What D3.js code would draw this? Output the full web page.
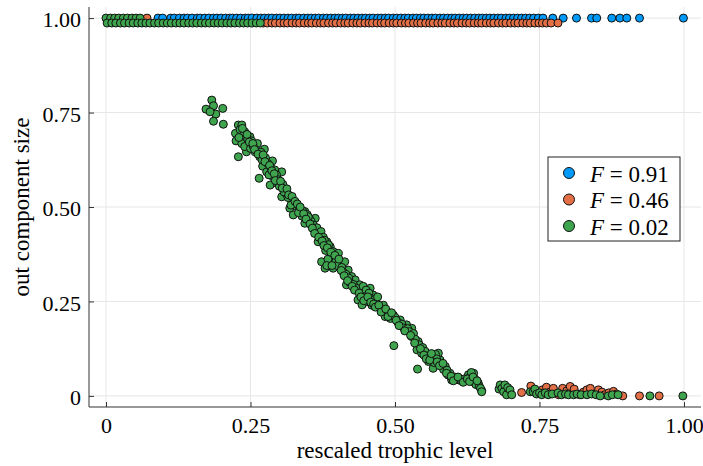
<!DOCTYPE html>
<html>
<head>
<meta charset="utf-8">
<script src="https://cdn.jsdelivr.net/npm/d3@7"></script>
<style>
  body { margin: 0; background: white; }
  text { font-family: "Liberation Serif", "DejaVu Serif", serif; }
</style>
</head>
<body>
<div id="chart"></div>
<script>
// tick labels
var xTicks = [0, 0.25, 0.5, 0.75, 1.0]
var xTickLabels = ["0", "0.25", "0.50", "0.75", "1.00"]
var yTicks = [0, 0.25, 0.5, 0.75, 1.0]
var yTickLabels = ["0", "0.25", "0.50", "0.75", "1.00"]

var seriesNames = ["0.91", "0.46", "0.02"]
var seriesColors = ["#009AFA", "#E36F47", "#3EA44E"]

// F = 0.91 : everything sits at out component size 1
var blueTopX = [0.090, 0.098, 0.112, 0.118, 0.127, 0.135, 0.141, 0.149, 0.158, 0.163, 0.171, 0.178, 0.186, 0.192,
  0.199, 0.207, 0.214, 0.219, 0.226, 0.233, 0.241, 0.246, 0.253, 0.261, 0.268, 0.274, 0.281, 0.287, 0.295, 0.301,
  0.308, 0.315, 0.321, 0.329, 0.334, 0.342, 0.349, 0.355, 0.362, 0.368, 0.376, 0.382, 0.389, 0.396, 0.402, 0.409,
  0.415, 0.423, 0.429, 0.436, 0.443, 0.449, 0.456, 0.462, 0.470, 0.476, 0.483, 0.489, 0.497, 0.503, 0.510, 0.517,
  0.523, 0.531, 0.537, 0.544, 0.550, 0.557, 0.564, 0.570, 0.578, 0.584, 0.591, 0.598, 0.604, 0.611, 0.618, 0.624,
  0.631, 0.638, 0.645, 0.651, 0.658, 0.664, 0.671, 0.678, 0.684, 0.692, 0.698, 0.705, 0.712, 0.719, 0.726, 0.733,
  0.740, 0.748, 0.756, 0.773, 0.791, 0.814, 0.840, 0.849, 0.875, 0.889, 0.901, 0.923, 0.999]

// F = 0.46
var orangeTop = [[0.071, 1.0]]
var orangeRowX = [0.272, 0.279, 0.287, 0.293, 0.301, 0.308, 0.314, 0.322, 0.329, 0.335, 0.343, 0.350, 0.356, 0.364,
  0.371, 0.377, 0.385, 0.392, 0.398, 0.406, 0.413, 0.419, 0.427, 0.434, 0.440, 0.448, 0.455, 0.461, 0.469, 0.476,
  0.482, 0.490, 0.497, 0.503, 0.511, 0.518, 0.524, 0.532, 0.539, 0.545, 0.553, 0.560, 0.566, 0.574, 0.581, 0.587,
  0.595, 0.602, 0.608, 0.616, 0.623, 0.629, 0.637, 0.644, 0.650, 0.658, 0.665, 0.671, 0.679, 0.686, 0.692, 0.700,
  0.707, 0.713, 0.721, 0.728, 0.734, 0.742, 0.749, 0.755, 0.762, 0.770, 0.782]
var orangeRowY = 0.987
var orangeLow = [[0.719, 0.009], [0.735, 0.026], [0.755, 0.016], [0.762, 0.023], [0.768, 0.010], [0.774, 0.020],
  [0.783, 0.003], [0.790, 0.020], [0.797, 0.013], [0.803, 0.025], [0.810, 0.018], [0.820, 0.003], [0.826, 0.010],
  [0.832, 0.016], [0.838, 0.020], [0.846, 0.005], [0.852, 0.016], [0.858, 0.010], [0.863, 0.003], [0.870, 0.008],
  [0.878, 0.012], [0.883, 0.005], [0.894, 0.0], [0.923, 0.0], [0.957, 0.0]]

// F = 0.02
var greenTopX = [0.0, 0.008, 0.015, 0.022, 0.030, 0.037, 0.045, 0.052, 0.059]
var greenRowX = [0.002, 0.010, 0.017, 0.025, 0.032, 0.040, 0.047, 0.055, 0.062, 0.069, 0.076, 0.084, 0.091, 0.099,
  0.106, 0.113, 0.121, 0.128, 0.135, 0.143, 0.150, 0.157, 0.165, 0.172, 0.179, 0.187, 0.194, 0.201, 0.209, 0.216,
  0.223, 0.231, 0.238, 0.245, 0.253, 0.260, 0.267]
var greenBand = [[0.183, 0.783], [0.173, 0.759], [0.186, 0.768], [0.202, 0.761], [0.190, 0.746], [0.180, 0.752],
  [0.186, 0.727], [0.203, 0.719], [0.229, 0.717], [0.235, 0.717], [0.224, 0.695], [0.240, 0.699], [0.249, 0.686],
  [0.225, 0.675], [0.235, 0.668], [0.246, 0.664], [0.262, 0.668], [0.274, 0.653], [0.258, 0.646], [0.229, 0.633],
  [0.243, 0.646], [0.266, 0.633], [0.271, 0.608], [0.288, 0.622], [0.278, 0.593], [0.289, 0.580], [0.304, 0.593],
  [0.265, 0.576], [0.284, 0.558], [0.296, 0.563], [0.310, 0.545], [0.304, 0.527], [0.321, 0.519], [0.318, 0.497],
  [0.330, 0.501], [0.344, 0.488], [0.324, 0.479], [0.339, 0.476], [0.362, 0.470],
  [0.232, 0.705], [0.238, 0.690], [0.245, 0.680], [0.252, 0.675], [0.230, 0.684], [0.240, 0.660], [0.250, 0.655],
  [0.255, 0.660], [0.260, 0.650], [0.268, 0.645], [0.270, 0.625], [0.276, 0.630], [0.280, 0.615], [0.285, 0.605],
  [0.292, 0.598], [0.282, 0.585], [0.295, 0.585], [0.298, 0.572], [0.300, 0.555], [0.306, 0.560], [0.312, 0.535],
  [0.308, 0.540], [0.315, 0.525], [0.326, 0.510], [0.320, 0.505], [0.335, 0.495], [0.340, 0.490], [0.333, 0.485],
  [0.348, 0.480], [0.352, 0.470], [0.355, 0.462],
  [0.350, 0.474], [0.344, 0.457], [0.359, 0.452], [0.362, 0.439], [0.370, 0.426], [0.367, 0.408], [0.382, 0.408],
  [0.388, 0.395], [0.393, 0.382], [0.402, 0.377], [0.373, 0.355], [0.388, 0.351], [0.379, 0.338], [0.393, 0.338],
  [0.405, 0.351], [0.413, 0.355], [0.419, 0.333], [0.425, 0.316], [0.416, 0.294], [0.431, 0.307], [0.439, 0.294],
  [0.457, 0.285], [0.462, 0.267], [0.436, 0.254], [0.451, 0.249], [0.443, 0.241], [0.468, 0.245], [0.474, 0.232],
  [0.486, 0.223], [0.483, 0.210], [0.497, 0.214], [0.509, 0.201], [0.520, 0.188], [0.529, 0.179],
  [0.365, 0.445], [0.372, 0.435], [0.376, 0.420], [0.378, 0.412], [0.385, 0.400], [0.380, 0.385], [0.390, 0.372],
  [0.395, 0.365], [0.398, 0.358], [0.384, 0.362], [0.400, 0.345], [0.408, 0.340], [0.410, 0.328], [0.415, 0.322],
  [0.420, 0.312], [0.422, 0.300], [0.428, 0.295], [0.433, 0.285], [0.445, 0.290], [0.450, 0.280], [0.455, 0.272],
  [0.448, 0.262], [0.458, 0.258], [0.465, 0.255], [0.470, 0.262], [0.460, 0.240], [0.478, 0.228], [0.480, 0.240],
  [0.490, 0.218], [0.492, 0.205], [0.500, 0.208], [0.505, 0.195], [0.512, 0.190], [0.515, 0.180], [0.522, 0.178],
  [0.525, 0.170],
  [0.498, 0.133], [0.529, 0.157], [0.540, 0.144], [0.538, 0.122], [0.546, 0.113], [0.561, 0.108], [0.575, 0.113],
  [0.558, 0.091], [0.578, 0.095], [0.539, 0.071], [0.566, 0.073], [0.587, 0.078], [0.595, 0.060], [0.611, 0.042],
  [0.598, 0.042], [0.627, 0.056], [0.636, 0.060], [0.633, 0.038], [0.644, 0.034], [0.650, 0.014],
  [0.532, 0.165], [0.535, 0.150], [0.542, 0.135], [0.548, 0.128], [0.552, 0.118], [0.556, 0.105], [0.565, 0.100],
  [0.570, 0.110], [0.572, 0.098], [0.568, 0.088], [0.580, 0.082], [0.584, 0.070], [0.590, 0.068], [0.592, 0.055],
  [0.603, 0.050], [0.606, 0.045], [0.615, 0.040], [0.620, 0.045], [0.630, 0.050], [0.632, 0.062], [0.638, 0.045],
  [0.640, 0.030], [0.646, 0.025],
  [0.236, 0.708], [0.244, 0.692], [0.248, 0.672], [0.254, 0.668], [0.257, 0.652], [0.263, 0.640], [0.272, 0.638],
  [0.275, 0.620], [0.283, 0.610], [0.287, 0.596], [0.291, 0.588], [0.293, 0.570], [0.302, 0.568], [0.305, 0.550],
  [0.313, 0.548], [0.316, 0.532], [0.322, 0.528], [0.327, 0.515], [0.331, 0.508], [0.336, 0.500], [0.342, 0.482],
  [0.346, 0.468], [0.353, 0.455], [0.357, 0.444], [0.361, 0.430], [0.368, 0.420], [0.374, 0.410], [0.377, 0.398],
  [0.383, 0.392], [0.389, 0.380], [0.396, 0.372], [0.382, 0.345], [0.391, 0.345], [0.403, 0.362], [0.407, 0.332],
  [0.412, 0.318], [0.418, 0.305], [0.426, 0.290], [0.430, 0.280], [0.438, 0.272], [0.441, 0.262], [0.446, 0.252],
  [0.453, 0.262], [0.458, 0.248], [0.463, 0.243], [0.466, 0.235], [0.472, 0.240], [0.476, 0.222], [0.484, 0.230],
  [0.488, 0.210], [0.494, 0.220], [0.502, 0.200], [0.507, 0.186], [0.517, 0.172], [0.527, 0.160], [0.534, 0.140],
  [0.544, 0.125], [0.550, 0.108], [0.554, 0.098], [0.560, 0.095], [0.563, 0.112], [0.573, 0.090], [0.577, 0.080],
  [0.583, 0.086], [0.589, 0.060], [0.597, 0.052], [0.601, 0.040], [0.609, 0.050], [0.618, 0.036], [0.625, 0.045],
  [0.629, 0.038], [0.635, 0.050], [0.642, 0.040], [0.648, 0.020]]
var greenLow = [[0.650, 0.011], [0.680, 0.018], [0.682, 0.029], [0.685, 0.020], [0.688, 0.011], [0.690, 0.029],
  [0.693, 0.003], [0.695, 0.022], [0.699, 0.016], [0.702, 0.003], [0.734, 0.011], [0.739, 0.011], [0.742, 0.018],
  [0.745, 0.005], [0.750, 0.008], [0.754, 0.003], [0.760, 0.008], [0.765, 0.003], [0.772, 0.005], [0.782, 0.008],
  [0.788, 0.003], [0.795, 0.005], [0.800, 0.003], [0.809, 0.003], [0.815, 0.005], [0.822, 0.003], [0.832, 0.003],
  [0.840, 0.005], [0.848, 0.003], [0.855, 0.0], [0.869, 0.0], [0.876, 0.003], [0.886, 0.003], [0.941, 0.0],
  [0.998, 0.0]]

var width = 703
var height = 466
var margin = { left: 89, right: 2, top: 7, bottom: 59 }
var fontFamily = "'Liberation Serif', 'DejaVu Serif', serif"
var tickFontSize = 22
var titleFontSize = 23

var svg = d3.select("#chart").append("svg")
  .attr("width", width)
  .attr("height", height)

var x = d3.scaleLinear().domain([-0.0294, 1.0294]).range([margin.left, width - margin.right])
var y = d3.scaleLinear().domain([-0.0294, 1.0294]).range([height - margin.bottom, margin.top])

// grid lines
svg.append("g").selectAll("line").data(xTicks).enter().append("line")
  .attr("x1", function (d) { return x(d) }).attr("x2", function (d) { return x(d) })
  .attr("y1", margin.top).attr("y2", height - margin.bottom)
  .attr("stroke", "#e6e6e6").attr("stroke-width", 1)
svg.append("g").selectAll("line").data(yTicks).enter().append("line")
  .attr("y1", function (d) { return y(d) }).attr("y2", function (d) { return y(d) })
  .attr("x1", margin.left).attr("x2", width - margin.right)
  .attr("stroke", "#e6e6e6").attr("stroke-width", 1)

// axes
var xAxis = d3.axisBottom(x).tickValues(xTicks).tickSize(-5).tickPadding(11)
  .tickFormat(function (d, i) { return xTickLabels[i] })
var yAxis = d3.axisLeft(y).tickValues(yTicks).tickSize(-5).tickPadding(8)
  .tickFormat(function (d, i) { return yTickLabels[i] })

var gx = svg.append("g").attr("transform", "translate(0," + (height - margin.bottom) + ")").call(xAxis)
var gy = svg.append("g").attr("transform", "translate(" + margin.left + ",0)").call(yAxis)
gx.select(".domain").attr("d", "M" + margin.left + ",0H" + (width - margin.right))
gy.select(".domain").attr("d", "M0," + margin.top + "V" + (height - margin.bottom))
;[gx, gy].forEach(function (g) {
  g.selectAll(".domain, .tick line").attr("stroke", "#333")
  g.selectAll("text").attr("font-family", fontFamily).attr("font-size", tickFontSize).attr("fill", "black")
})
gx.selectAll(".tick text").attr("dy", "0.66em")
gy.selectAll(".tick text").attr("dy", "0.4em")

svg.append("text")
  .attr("x", (margin.left + width - margin.right) / 2)
  .attr("y", 458)
  .attr("text-anchor", "middle")
  .attr("font-family", fontFamily).attr("font-size", titleFontSize)
  .text("rescaled trophic level")

svg.append("text")
  .attr("transform", "translate(29," + (margin.top + height - margin.bottom) / 2 + ") rotate(-90)")
  .attr("text-anchor", "middle")
  .attr("font-family", fontFamily).attr("font-size", titleFontSize)
  .text("out component size")

// build point lists per series
var blueData = blueTopX.map(function (v) { return [v, 1.0] })
var orangeData = orangeTop.concat(orangeRowX.map(function (v) { return [v, orangeRowY] }), orangeLow)
var greenData = greenTopX.map(function (v) { return [v, 1.0] })
  .concat(greenRowX.map(function (v) { return [v, orangeRowY] }), greenBand, greenLow)

var allSeries = [blueData, orangeData, greenData]

allSeries.forEach(function (pts, i) {
  svg.append("g").selectAll("circle").data(pts).enter().append("circle")
    .attr("cx", function (d) { return x(d[0]) })
    .attr("cy", function (d) { return y(d[1]) })
    .attr("r", 4)
    .attr("fill", seriesColors[i])
    .attr("stroke", "#111")
    .attr("stroke-width", 1)
})

// legend
var legend = svg.append("g").attr("transform", "translate(548,157)")
legend.append("rect")
  .attr("width", 132).attr("height", 84)
  .attr("fill", "white").attr("stroke", "#222").attr("stroke-width", 1)

var rows = legend.selectAll(".row").data(seriesNames).enter().append("g")
  .attr("transform", function (d, i) { return "translate(0," + (16 + i * 26.5) + ")" })
rows.append("circle")
  .attr("cx", 21).attr("cy", 0).attr("r", 5.5)
  .attr("fill", function (d, i) { return seriesColors[i] })
  .attr("stroke", "#111").attr("stroke-width", 1)
var label = rows.append("text")
  .attr("x", 42).attr("y", 8.5)
  .attr("font-family", fontFamily).attr("font-size", 23)
label.append("tspan").attr("font-style", "italic").text("F")
label.append("tspan").text(function (d) { return " = " + d })
</script>
</body>
</html>
